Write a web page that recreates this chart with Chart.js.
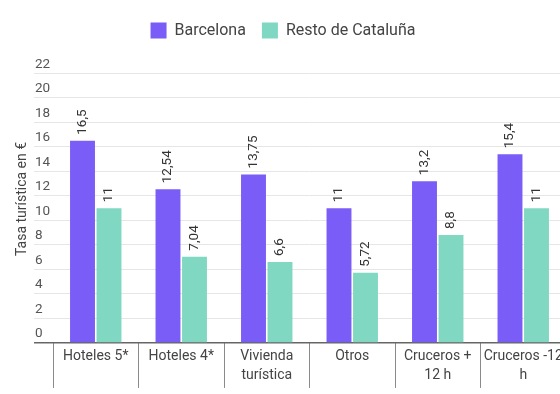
<!DOCTYPE html>
<html>
<head>
<meta charset="utf-8">
<script src="https://cdn.jsdelivr.net/npm/chart.js@4.4.1/dist/chart.umd.min.js"></script>
<style>
  html, body { margin: 0; padding: 0; background: #fff; overflow: hidden; }
  #wrap { width: 578px; height: 394px; position: relative; }
</style>
</head>
<body>
<div id="wrap"><canvas id="c"></canvas></div>
<script>
const categories = ['Hoteles 5*', 'Hoteles 4*', ['Vivienda', 'turística'], 'Otros', ['Cruceros +', '12 h'], ['Cruceros -12', 'h']];
const seriesNames = ['Barcelona', 'Resto de Cataluña'];
const barcelona = [16.5, 12.54, 13.75, 11, 13.2, 15.4];
const restoCataluna = [11, 7.04, 6.6, 5.72, 8.8, 11];
const yTickValues = [0, 2, 4, 6, 8, 10, 12, 14, 16, 18, 20, 22];
const yTitle = 'Tasa turística en €';

const valueLabels = {
  id: 'valueLabels',
  afterDatasetsDraw(chart) {
    const ctx = chart.ctx;
    chart.data.datasets.forEach((ds, i) => {
      const meta = chart.getDatasetMeta(i);
      meta.data.forEach((bar, j) => {
        const v = ds.data[j];
        ctx.save();
        ctx.translate(bar.x, bar.y - 6);
        ctx.rotate(-Math.PI / 2);
        ctx.font = '13.5px Roboto';
        ctx.fillStyle = '#333';
        ctx.textAlign = 'left';
        ctx.textBaseline = 'middle';
        ctx.fillText(String(v).replace('.', ','), 0, 0);
        ctx.restore();
      });
    });
  }
};

const legendSpacer = {
  id: 'legendSpacer',
  afterInit(chart) {
    const lg = chart.legend;
    if (!lg) return;
    const f = lg.fit;
    lg.fit = function () { f.call(this); this.height += 6.5; };
  }
};

new Chart(document.getElementById('c'), {
  type: 'bar',
  data: {
    labels: categories,
    datasets: [
      { label: seriesNames[0], data: barcelona, backgroundColor: '#7a5cf6', categoryPercentage: 0.62, barPercentage: 0.94 },
      { label: seriesNames[1], data: restoCataluna, backgroundColor: '#80d8c3', categoryPercentage: 0.62, barPercentage: 0.94 }
    ]
  },
  options: {
    responsive: true,
    maintainAspectRatio: false,
    animation: false,
    layout: { padding: { left: 0, right: 12, top: 6.5, bottom: 0 } },
    plugins: {
      legend: {
        position: 'top',
        labels: {
          boxWidth: 16, boxHeight: 16, padding: 16,
          color: '#444',
          font: { family: 'Roboto', size: 16 }
        }
      },
      tooltip: { enabled: false }
    },
    scales: {
      x: {
        grid: {
          offset: true,
          drawOnChartArea: false,
          drawTicks: true,
          tickLength: 45,
          color: '#8a8a8a',
          lineWidth: 1
        },
        border: { display: false },
        ticks: {
          color: '#444',
          font: { family: 'Roboto', size: 14, lineHeight: 1.36 },
          padding: -40.5,
          maxRotation: 0,
          autoSkip: false
        },
        title: {
          display: true,
          text: ' ',
          font: { family: 'Roboto', size: 10, lineHeight: 1 },
          padding: { top: 39, bottom: 0 }
        }
      },
      y: {
        min: 0,
        max: 23.5,
        afterBuildTicks(scale) {
          scale.ticks = yTickValues.map(v => ({ value: v }));
        },
        border: { display: false },
        grid: {
          drawTicks: true,
          tickLength: 19,
          color: c => (c.tick && c.tick.value === 0) ? '#666' : '#e6e6e6',
          lineWidth: c => (c.tick && c.tick.value === 0) ? 1.5 : 1
        },
        ticks: {
          mirror: true,
          padding: -18,
          labelOffset: -9,
          color: '#555',
          font: { family: 'Roboto', size: 13.5 }
        },
        title: {
          display: true,
          text: yTitle,
          color: '#444',
          font: { family: 'Roboto', size: 14 },
          padding: { top: 13.6, bottom: 39.6 }
        }
      }
    }
  },
  plugins: [valueLabels, legendSpacer]
});
</script>
</body>
</html>
